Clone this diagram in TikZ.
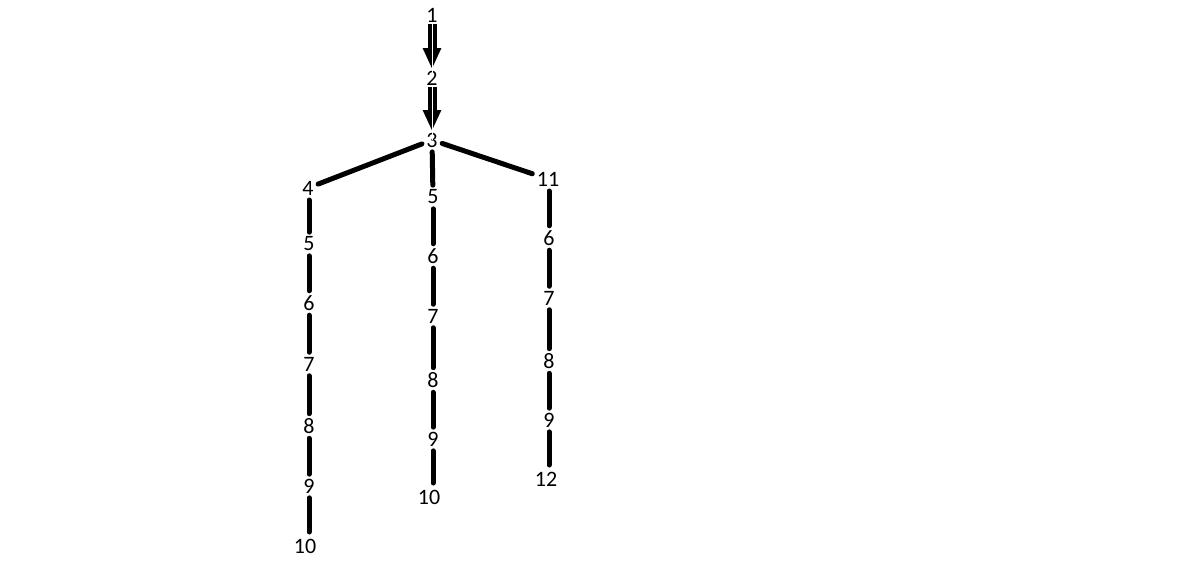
\documentclass[tikz,border=0pt]{standalone}
\usepackage{fontspec}
\setmainfont{Carlito}
\usetikzlibrary{arrows.meta}
\begin{document}
\begin{tikzpicture}[x=1pt,y=-1pt,
  lbl/.style={inner sep=1.5pt, font=\fontsize{22}{24}\selectfont},
  edge/.style={line width=5pt, line cap=round, shorten <=3pt, shorten >=3pt},
  bigarrow/.style={line width=9pt, -{Triangle[length=21pt,width=17pt]}}]
\useasboundingbox[fill=white] (0,0) rectangle (1190,563);
% top chain
\node[lbl] (n1) at (432,15) {1};
\node[lbl] (n2) at (432,78) {2};
\node[lbl] (n3) at (432,140) {3};
% left column
\node[lbl] (l4) at (308,188) {4};
\node[lbl] (l5) at (309,244) {5};
\node[lbl] (l6) at (309,303) {6};
\node[lbl] (l7) at (309,364) {7};
\node[lbl] (l8) at (309,426) {8};
\node[lbl] (l9) at (309,486) {9};
\node[lbl] (l10) at (305,546) {10};
\coordinate (l10t) at (309,532);
\coordinate (l4b) at (309,200);
% middle column
\node[lbl] (m5) at (433,197) {5};
\node[lbl] (m6) at (433,256) {6};
\node[lbl] (m7) at (433,316) {7};
\node[lbl] (m8) at (433,380) {8};
\node[lbl] (m9) at (433,439) {9};
\node[lbl] (m10) at (429,497) {10};
\coordinate (m10t) at (433,483);
% right column
\node[lbl] (r11) at (548,179) {11};
\node[lbl] (r6) at (549,238) {6};
\node[lbl] (r7) at (549,298) {7};
\node[lbl] (r8) at (549,361) {8};
\node[lbl] (r9) at (549,420) {9};
\node[lbl] (r12) at (546,479) {12};
\coordinate (r11b) at (549,191);
\coordinate (r12t) at (549,465);
% double arrows
\draw[bigarrow] (n1.south) -- (n2.north);
\draw[white, line width=1pt] ([yshift=1pt]n1.south) -- ([yshift=-9pt]n2.north);
\draw[bigarrow] (n2.south) -- (n3.north);
\draw[white, line width=1pt] ([yshift=1pt]n2.south) -- ([yshift=-9pt]n3.north);
% edges
\draw[edge] (n3) -- (l4);
\draw[edge] (n3) -- (r11);
\draw[edge] (n3) -- (m5);
\draw[edge, shorten <=0pt] (l4b) -- (l5.north);
\draw[edge] (l5.south) -- (l6.north);
\draw[edge] (l6.south) -- (l7.north);
\draw[edge] (l7.south) -- (l8.north);
\draw[edge] (l8.south) -- (l9.north);
\draw[edge, shorten >=0pt] (l9.south) -- (l10t);
\draw[edge] (m5.south) -- (m6.north);
\draw[edge] (m6.south) -- (m7.north);
\draw[edge] (m7.south) -- (m8.north);
\draw[edge] (m8.south) -- (m9.north);
\draw[edge, shorten >=0pt] (m9.south) -- (m10t);
\draw[edge, shorten <=0pt] (r11b) -- (r6.north);
\draw[edge] (r6.south) -- (r7.north);
\draw[edge] (r7.south) -- (r8.north);
\draw[edge] (r8.south) -- (r9.north);
\draw[edge, shorten >=0pt] (r9.south) -- (r12t);
\end{tikzpicture}
\end{document}
